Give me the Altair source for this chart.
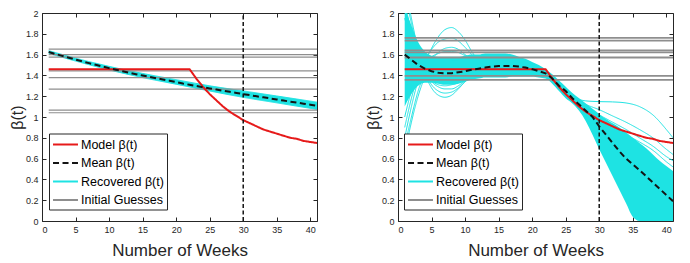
import altair as alt
import pandas as pd

# ---------------- data ----------------
WEEKS = list(range(1, 42))

MODEL = [1.46, 1.46, 1.46, 1.46, 1.46, 1.46, 1.46, 1.46, 1.46, 1.46, 1.46,
         1.46, 1.46, 1.46, 1.46, 1.46, 1.46, 1.46, 1.46, 1.46, 1.46, 1.46,
         1.37, 1.29, 1.22, 1.16, 1.10, 1.05, 1.01, 0.97, 0.94, 0.91, 0.88,
         0.86, 0.84, 0.82, 0.80, 0.79, 0.77, 0.76, 0.75]

MEAN_LEFT = [1.625, 1.606, 1.588, 1.570, 1.552, 1.535, 1.518, 1.502, 1.486,
             1.470, 1.455, 1.440, 1.426, 1.412, 1.399, 1.386, 1.373, 1.361,
             1.349, 1.337, 1.322, 1.310, 1.298, 1.286, 1.275, 1.264, 1.253,
             1.242, 1.231, 1.220, 1.210, 1.199, 1.189, 1.179, 1.169, 1.158,
             1.148, 1.138, 1.128, 1.118, 1.108]

MEAN_RIGHT = [1.60, 1.55, 1.50, 1.465, 1.44, 1.425, 1.42, 1.42, 1.43, 1.44,
              1.455, 1.465, 1.475, 1.485, 1.49, 1.49, 1.49, 1.485, 1.475,
              1.46, 1.44, 1.42, 1.37, 1.30, 1.25, 1.18, 1.12, 1.06, 1.00,
              0.91, 0.83, 0.75, 0.67, 0.60, 0.545, 0.49, 0.43, 0.37, 0.31,
              0.25, 0.19]

# left panel: narrow band of recovered curves
BAND_T = [1, 5, 10, 15, 20, 25, 30, 35, 41]
BAND_LO_LEFT = [1.612, 1.538, 1.453, 1.379, 1.315, 1.250, 1.189, 1.136, 1.073]
BAND_HI_LEFT = [1.638, 1.566, 1.487, 1.419, 1.359, 1.300, 1.251, 1.202, 1.143]

# right panel: dense core of recovered curves
CORE_LO_RIGHT = [1.10, 1.22, 1.30, 1.33, 1.33, 1.32, 1.31, 1.31, 1.32, 1.34,
                 1.36, 1.37, 1.38, 1.38, 1.38, 1.38, 1.39, 1.39, 1.39, 1.39,
                 1.38, 1.37, 1.32, 1.25, 1.18, 1.13, 1.06, 0.96, 0.83, 0.69,
                 0.56, 0.43, 0.30, 0.17, 0.04, 0.00, 0.00, 0.00, 0.00, 0.00,
                 0.00]
CORE_HI_RIGHT = [2.05, 1.88, 1.72, 1.63, 1.59, 1.58, 1.58, 1.58, 1.58, 1.59,
                 1.60, 1.60, 1.61, 1.61, 1.61, 1.61, 1.60, 1.58, 1.56, 1.53,
                 1.50, 1.46, 1.41, 1.35, 1.29, 1.23, 1.18, 1.13, 1.08, 1.03,
                 0.98, 0.94, 0.90, 0.85, 0.80, 0.75, 0.70, 0.64, 0.58, 0.53,
                 0.48]

# right panel: individual recovered curves that leave the core
EARLY_T = list(range(1, 15))
EARLY_LINES = {
    "u1": [0.80, 1.10, 1.35, 1.52, 1.66, 1.77, 1.84, 1.86, 1.82, 1.74, 1.63, 1.54, 1.50, 1.49],
    "u2": [0.90, 1.18, 1.40, 1.55, 1.65, 1.72, 1.75, 1.76, 1.73, 1.67, 1.60, 1.55, 1.52, 1.50],
    "u3": [1.00, 1.25, 1.42, 1.52, 1.58, 1.61, 1.63, 1.63, 1.62, 1.59, 1.56, 1.53, 1.51, 1.50],
    "u4": [0.65, 0.95, 1.20, 1.38, 1.48, 1.52, 1.54, 1.55, 1.55, 1.54, 1.52, 1.50, 1.49, 1.48],
    "u5": [0.72, 1.00, 1.25, 1.42, 1.55, 1.62, 1.66, 1.67, 1.65, 1.60, 1.55, 1.51, 1.49, 1.48],
    "d1": [2.30, 1.95, 1.65, 1.42, 1.28, 1.21, 1.19, 1.21, 1.27, 1.34, 1.40, 1.44, 1.46, 1.47],
    "d2": [2.20, 1.90, 1.62, 1.43, 1.31, 1.25, 1.23, 1.24, 1.28, 1.34, 1.40, 1.43, 1.45, 1.46],
    "d3": [2.10, 1.82, 1.58, 1.43, 1.34, 1.29, 1.27, 1.27, 1.30, 1.35, 1.39, 1.42, 1.44, 1.45],
    "d4": [1.95, 1.72, 1.54, 1.42, 1.35, 1.31, 1.30, 1.31, 1.33, 1.36, 1.40, 1.42, 1.43, 1.44],
}
LATE_T = [26, 27, 28, 30, 32, 34, 36, 38, 40, 41]
LATE_LINES = {
    "l1": [1.21, 1.17, 1.155, 1.148, 1.145, 1.135, 1.10, 1.02, 0.88, 0.80],
    "l2": [1.20, 1.15, 1.12, 1.07, 1.01, 0.95, 0.88, 0.80, 0.69, 0.64],
    "l3": [1.19, 1.14, 1.09, 1.02, 0.95, 0.88, 0.80, 0.72, 0.62, 0.58],
    "l4": [1.18, 1.13, 1.07, 0.99, 0.91, 0.83, 0.76, 0.68, 0.57, 0.52],
}

GUESS_LEFT = [1.652, 1.600, 1.575, 1.443, 1.379, 1.268, 1.067, 1.041]
GUESS_RIGHT = [1.760, 1.735, 1.640, 1.622, 1.572, 1.395, 1.357]

X_TICKS = [0, 5, 10, 15, 20, 25, 30, 35, 40]
Y_TICKS = [0, 0.2, 0.4, 0.6, 0.8, 1, 1.2, 1.4, 1.6, 1.8, 2]
VLINE_T = 30

SERIES = ["Model β(t)", "Mean β(t)", "Recovered β(t)", "Initial Guesses"]
COLORS = ["#e61a1a", "#141414", "#1ee3e3", "#8e8e8e"]
DASHES = [[1, 0], [6, 3.5], [1, 0], [1, 0]]
CYAN = "#1ee3e3"

# ---------------- helpers ----------------
xs = alt.Scale(domain=[0, 41], nice=False, zero=False)
ys = alt.Scale(domain=[0, 2], nice=False, zero=False)


def legend(x):
    return alt.Legend(orient="none", legendX=x, legendY=120.5, title=None,
                      fillColor="white", strokeColor="#262626", padding=3,
                      labelFontSize=12.5, labelFont="Liberation Sans",
                      labelColor="#000000", symbolType="M-1.85,0H1.85",
                      symbolSize=182, symbolStrokeWidth=2, symbolOffset=5.5,
                      labelOffset=7.5, rowPadding=3.5, cornerRadius=0)


def enc_series(x):
    return dict(
        color=alt.Color("series:N", scale=alt.Scale(domain=SERIES, range=COLORS), legend=legend(x)),
        strokeDash=alt.StrokeDash("series:N", scale=alt.Scale(domain=SERIES, range=DASHES), legend=legend(x)),
    )


def panel(band_df, cyan_df, guesses, mean_vals, guess_w, legend_x):
    bottom = alt.Axis(orient="bottom", values=X_TICKS, format="d", title="Number of Weeks",
                      offset=-4, tickSize=4, labelPadding=4, titlePadding=8,
                      titleFontSize=17, domain=False, grid=False)
    left = alt.Axis(orient="left", values=Y_TICKS, format="~g", title="β(t)",
                    offset=-4, tickSize=4, labelPadding=4, titlePadding=0,
                    titleFontSize=16, domain=False, grid=False)
    top = alt.Axis(orient="top", values=X_TICKS, labels=False, title=None,
                   offset=-4, tickSize=4, domain=False, grid=False)
    right = alt.Axis(orient="right", values=Y_TICKS, labels=False, title=None,
                     offset=-4, tickSize=4, domain=False, grid=False)

    area = alt.Chart(band_df).mark_area(color=CYAN, interpolate="monotone", clip=True).encode(
        x=alt.X("t:Q", scale=xs, axis=bottom),
        y=alt.Y("lo:Q", scale=ys, axis=left),
        y2="hi:Q",
    )
    cyan = alt.Chart(cyan_df).mark_line(strokeWidth=1, interpolate="monotone", clip=True).encode(
        x=alt.X("t:Q", scale=xs, axis=None),
        y=alt.Y("v:Q", scale=ys, axis=None),
        detail="id:N",
        **enc_series(legend_x),
    )
    gdf = pd.DataFrame({
        "t": [1] * len(guesses) + [41] * len(guesses),
        "v": guesses + guesses,
        "id": list(range(len(guesses))) * 2,
        "series": ["Initial Guesses"] * (2 * len(guesses)),
    })
    gray = alt.Chart(gdf).mark_line(strokeWidth=guess_w, clip=True).encode(
        x=alt.X("t:Q", scale=xs, axis=None),
        y=alt.Y("v:Q", scale=ys, axis=None),
        detail="id:N",
        **enc_series(legend_x),
    )
    mdf = pd.DataFrame({"t": WEEKS, "v": MODEL, "series": "Model β(t)"})
    red = alt.Chart(mdf).mark_line(strokeWidth=2, clip=True).encode(
        x=alt.X("t:Q", scale=xs, axis=None),
        y=alt.Y("v:Q", scale=ys, axis=None),
        **enc_series(legend_x),
    )
    mndf = pd.DataFrame({"t": WEEKS, "v": mean_vals, "series": "Mean β(t)"})
    mean = alt.Chart(mndf).mark_line(strokeWidth=2, clip=True).encode(
        x=alt.X("t:Q", scale=xs, axis=None),
        y=alt.Y("v:Q", scale=ys, axis=None),
        **enc_series(legend_x),
    )
    rdf = pd.DataFrame({"t": [VLINE_T], "lo": [0], "hi": [2]})
    rule = alt.Chart(rdf).mark_rule(color="#141414", strokeWidth=1.5, strokeDash=[4, 2.5]).encode(
        x=alt.X("t:Q", scale=xs, axis=top),
        y=alt.Y("lo:Q", scale=ys, axis=right),
        y2="hi:Q",
    )
    return alt.layer(area, cyan, gray, red, mean, rule).resolve_axis(
        x="independent", y="independent"
    ).properties(width=275, height=208)


# left panel data frames
band_left = pd.DataFrame({"t": BAND_T, "lo": BAND_LO_LEFT, "hi": BAND_HI_LEFT})
cyan_left = pd.DataFrame({
    "t": BAND_T + BAND_T,
    "v": BAND_LO_LEFT + BAND_HI_LEFT,
    "id": ["lo"] * len(BAND_T) + ["hi"] * len(BAND_T),
    "series": "Recovered β(t)",
})

# right panel data frames
band_right = pd.DataFrame({"t": WEEKS, "lo": CORE_LO_RIGHT, "hi": CORE_HI_RIGHT})
rows = []
for k, vals in EARLY_LINES.items():
    for t, v in zip(EARLY_T, vals):
        rows.append({"t": t, "v": v, "id": k, "series": "Recovered β(t)"})
for k, vals in LATE_LINES.items():
    for t, v in zip(LATE_T, vals):
        rows.append({"t": t, "v": v, "id": k, "series": "Recovered β(t)"})
cyan_right = pd.DataFrame(rows)

p1 = panel(band_left, cyan_left, GUESS_LEFT, MEAN_LEFT, 1.2, 7)
p2 = panel(band_right, cyan_right, GUESS_RIGHT, MEAN_RIGHT, 1.8, 6)

chart = alt.hconcat(p1, p2, spacing=46).resolve_scale(
    color="independent", strokeDash="independent"
).properties(
    padding={"left": 0, "top": 0, "right": 2, "bottom": 0},
    background="white",
).configure_view(
    stroke="#262626", strokeWidth=1
).configure_axis(
    labelFont="Liberation Sans", labelFontSize=9, labelColor="#262626",
    tickColor="#262626", tickWidth=1,
    titleFont="Liberation Sans", titleFontWeight="normal",
    titleColor="#262626",
)

chart.save("out.html", embed_options={"renderer": "svg", "actions": False})
